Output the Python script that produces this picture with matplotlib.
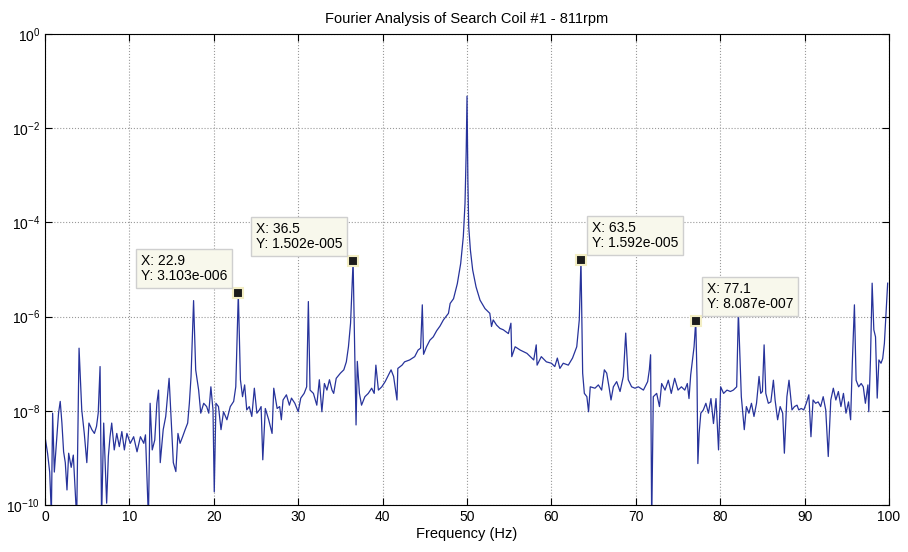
import numpy as np
import matplotlib
matplotlib.use('Agg')
import matplotlib.pyplot as plt

# spectrum: frequency (Hz) and log10 of amplitude
freq = [0.0, 0.3, 0.55, 0.75, 0.9, 1.1, 1.4, 1.6, 1.8, 2.0, 2.2, 2.4, 2.6, 2.8, 3.1, 3.35, 3.75,
        4.03, 4.35, 4.65, 4.95, 5.2, 5.55, 5.85, 6.1, 6.3, 6.52, 6.7, 6.95, 7.3, 7.5, 7.7, 7.9,
        8.2, 8.5, 8.8, 9.1, 9.4, 9.7, 10.1, 10.5, 10.9, 11.3, 11.7, 11.9, 12.25, 12.45, 12.7,
        13.0, 13.25, 13.45, 13.65, 14.0, 14.3, 14.7, 14.95, 15.2, 15.5, 15.75, 16.0, 16.3, 16.6,
        16.9, 17.1, 17.3, 17.6, 17.85, 18.2, 18.45, 18.8, 19.15, 19.4, 19.65, 19.9, 20.05, 20.25,
        20.55, 20.85, 21.15, 21.55, 21.95, 22.35, 22.6, 22.9, 23.15, 23.4, 23.65, 23.9, 24.2,
        24.5, 24.8, 25.1, 25.4, 25.6, 25.8, 26.1, 26.5, 26.9, 27.1, 27.5, 27.8, 28.0, 28.2, 28.6,
        28.95, 29.2, 29.6, 30.0, 30.3, 30.7, 31.0, 31.2, 31.4, 31.8, 32.2, 32.5, 32.8, 33.1, 33.4,
        33.7, 34.0, 34.2, 34.5, 35.0, 35.4, 35.7, 35.95, 36.2, 36.5, 36.7, 36.85, 37.0, 37.25,
        37.5, 37.9, 38.3, 38.7, 39.0, 39.2, 39.5, 39.9, 40.3, 40.7, 41.0, 41.3, 41.7, 41.8, 42.3,
        42.6, 43.2, 43.8, 44.2, 44.5, 44.7, 44.85, 45.2, 45.6, 46.0, 46.4, 46.8, 47.2, 47.8, 48.0,
        48.4, 48.85, 49.25, 49.56, 49.76, 49.9, 50.0, 50.1, 50.2, 50.4, 50.67, 51.07, 51.54,
        52.13, 52.7, 52.9, 53.1, 53.5, 53.9, 54.3, 54.9, 55.2, 55.3, 55.7, 56.3, 57.1, 57.9, 58.2,
        58.3, 58.8, 59.4, 60.0, 60.4, 60.7, 61.0, 61.4, 62.0, 62.5, 63.0, 63.3, 63.5, 63.7, 63.9,
        64.2, 64.4, 64.6, 65.16, 65.56, 65.95, 66.27, 66.55, 66.82, 67.06, 67.34, 67.73, 68.13,
        68.52, 68.8, 69.1, 69.5, 69.9, 70.3, 70.9, 71.4, 71.6, 71.75, 71.88, 72.07, 72.47, 72.8,
        73.06, 73.46, 73.85, 74.2, 74.6, 75.0, 75.4, 75.8, 76.1, 76.3, 76.5, 76.9, 77.1, 77.25,
        77.35, 77.5, 77.7, 78.0, 78.3, 78.6, 78.9, 79.2, 79.5, 79.8, 80.05, 80.4, 80.8, 81.2,
        81.55, 81.95, 82.15, 82.5, 82.85, 83.1, 83.4, 83.7, 84.0, 84.3, 84.6, 84.8, 85.0, 85.2,
        85.4, 85.7, 86.0, 86.3, 86.5, 86.8, 87.1, 87.4, 87.6, 87.9, 88.15, 88.5, 88.8, 89.1,
        89.3, 89.6, 89.9, 90.2, 90.5, 90.75, 91.0, 91.3, 91.6, 91.9, 92.2, 92.5, 92.8, 93.1,
        93.4, 93.7, 94.0, 94.3, 94.6, 94.9, 95.2, 95.45, 95.65, 95.9, 96.1, 96.4, 96.7, 96.95,
        97.2, 97.5, 97.6, 97.8, 98.0, 98.2, 98.4, 98.6, 98.8, 99.05, 99.25, 99.45, 99.64, 99.84]
log_amp = [-8.55, -8.9, -9.3, -10.2, -8.05, -9.3, -8.55, -8.05, -7.8, -8.26, -8.87, -9.1, -9.68,
           -8.9, -9.2, -8.94, -10.3, -6.67, -7.98, -8.48, -9.1, -8.26, -8.4, -8.48, -8.33, -8.05,
           -7.06, -10.3, -8.26, -9.96, -8.97, -8.55, -8.26, -8.83, -8.48, -8.76, -8.44, -8.83,
           -8.48, -8.69, -8.55, -8.87, -8.55, -8.69, -8.51, -10.3, -7.84, -8.83, -8.62, -7.84,
           -7.56, -9.1, -8.4, -8.12, -7.31, -8.19, -9.1, -9.29, -8.48, -8.69, -8.55, -8.4, -8.26,
           -7.84, -7.27, -5.66, -7.13, -7.56, -8.05, -7.84, -7.91, -8.05, -7.49, -7.98, -9.72,
           -7.84, -7.91, -8.4, -8.02, -8.19, -7.91, -7.8, -7.49, -5.51, -7.34, -7.7, -7.45, -7.98,
           -7.91, -8.12, -7.52, -8.05, -7.98, -7.91, -9.04, -7.95, -8.19, -8.48, -7.52, -7.95,
           -7.91, -8.19, -7.77, -7.66, -7.88, -7.73, -7.84, -8.02, -7.73, -7.63, -7.49, -5.68,
           -7.56, -7.63, -7.88, -7.34, -8.02, -7.42, -7.56, -7.34, -7.56, -7.63, -7.31, -7.2,
           -7.13, -6.96, -6.64, -6.14, -4.82, -6.85, -8.3, -6.95, -7.63, -7.88, -7.7, -7.63, -7.52,
           -7.63, -7.03, -7.56, -7.49, -7.38, -7.24, -7.13, -7.27, -7.77, -7.1, -7.03, -6.96, -6.92,
           -6.85, -6.71, -6.67, -5.75, -6.8, -6.64, -6.5, -6.43, -6.3, -6.2, -6.07, -5.93, -5.72,
           -5.62, -5.3, -4.87, -4.3, -3.6, -2.5, -1.32, -3.1, -4.09, -4.59, -5.01, -5.37, -5.65,
           -5.83, -5.93, -6.21, -6.07, -6.18, -6.25, -6.28, -6.36, -6.14, -6.85, -6.64, -6.71,
           -6.78, -6.92, -6.6, -7.03, -6.85, -6.96, -6.99, -7.06, -6.88, -7.1, -6.99, -7.03, -6.88,
           -6.64, -6.07, -4.8, -7.2, -7.63, -7.7, -8.02, -7.49, -7.52, -7.45, -7.56, -7.13, -7.2,
           -7.49, -7.77, -7.49, -7.38, -7.59, -7.27, -6.35, -7.34, -7.49, -7.52, -7.49, -7.56,
           -7.38, -7.13, -6.81, -10.4, -7.7, -7.63, -7.91, -7.42, -7.56, -7.35, -7.63, -7.31,
           -7.56, -7.49, -7.56, -7.42, -7.74, -7.24, -6.64, -6.09, -7.3, -9.12, -8.48, -8.05,
           -7.98, -7.84, -8.05, -7.74, -8.27, -7.74, -8.83, -7.49, -7.63, -7.56, -7.59, -7.56,
           -7.49, -5.9, -7.7, -8.4, -7.91, -8.05, -7.84, -8.12, -7.84, -7.27, -7.63, -7.59, -6.6,
           -7.63, -7.84, -7.81, -7.35, -7.77, -8.19, -7.91, -8.05, -8.9, -7.7, -7.35, -7.98, -7.91,
           -7.88, -7.98, -7.95, -7.98, -7.84, -7.66, -8.55, -7.77, -7.84, -7.81, -7.91, -7.7,
           -7.98, -8.97, -7.77, -7.52, -7.77, -7.59, -7.91, -7.63, -8.05, -7.81, -8.19, -6.99,
           -5.75, -7.35, -7.49, -7.42, -7.49, -7.84, -7.45, -8.02, -6.92, -5.29, -6.28, -6.43,
           -7.73, -6.92, -6.99, -6.89, -6.57, -5.93, -5.29]

# data tips
tip_x = [22.9, 36.5, 63.5, 77.1]
tip_y = [3.103e-006, 1.502e-005, 1.592e-005, 8.087e-007]
tip_y_text = ['3.103e-006', '1.502e-005', '1.592e-005', '8.087e-007']
tip_side = ['left', 'left', 'right', 'right']

plt.rcParams['font.family'] = ['Liberation Sans', 'DejaVu Sans']

fig = plt.figure(figsize=(9.08, 5.52), dpi=100)
ax = fig.add_axes([0.0496, 0.0851, 0.9295, 0.8533])

amp = 10 ** np.array(log_amp)
ax.plot(freq, amp, color='#27339b', lw=0.9)

ax.set_yscale('log')
ax.set_xlim(0, 100)
ax.set_ylim(1e-10, 1e0)
ax.set_xticks(np.arange(0, 101, 10))
ax.set_yticks([1e-10, 1e-8, 1e-6, 1e-4, 1e-2, 1e0])
ax.yaxis.set_minor_locator(matplotlib.ticker.NullLocator())
ax.tick_params(direction='in', top=True, right=True, labelsize=10, length=5, width=0.8)
ax.grid(True, linestyle=':', color='#999999', lw=0.8)
for s in ax.spines.values():
    s.set_linewidth(0.8)

ax.set_title('Fourier Analysis of Search Coil #1 - 811rpm', fontsize=10.5, pad=8)
ax.set_xlabel('Frequency (Hz)', fontsize=10.5, labelpad=2)

for x, y, ytxt, side in zip(tip_x, tip_y, tip_y_text, tip_side):
    ax.plot(x, y, 's', ms=7, mfc='#1c1c1c', mec='#f3eec4', mew=1.5, zorder=5)
    if side == 'left':
        off, ha = (-11, 10), 'right'
    else:
        off, ha = (11, 10), 'left'
    ax.annotate(f'X: {x}\nY: {ytxt}', xy=(x, y), xytext=off, textcoords='offset pixels',
                ha=ha, va='bottom', multialignment='left', fontsize=10, linespacing=1.1,
                bbox=dict(boxstyle='square,pad=0.35', fc='#f8f8ec', ec='#cfcfcf', lw=1),
                zorder=6)

fig.savefig('out.png', dpi=100)
